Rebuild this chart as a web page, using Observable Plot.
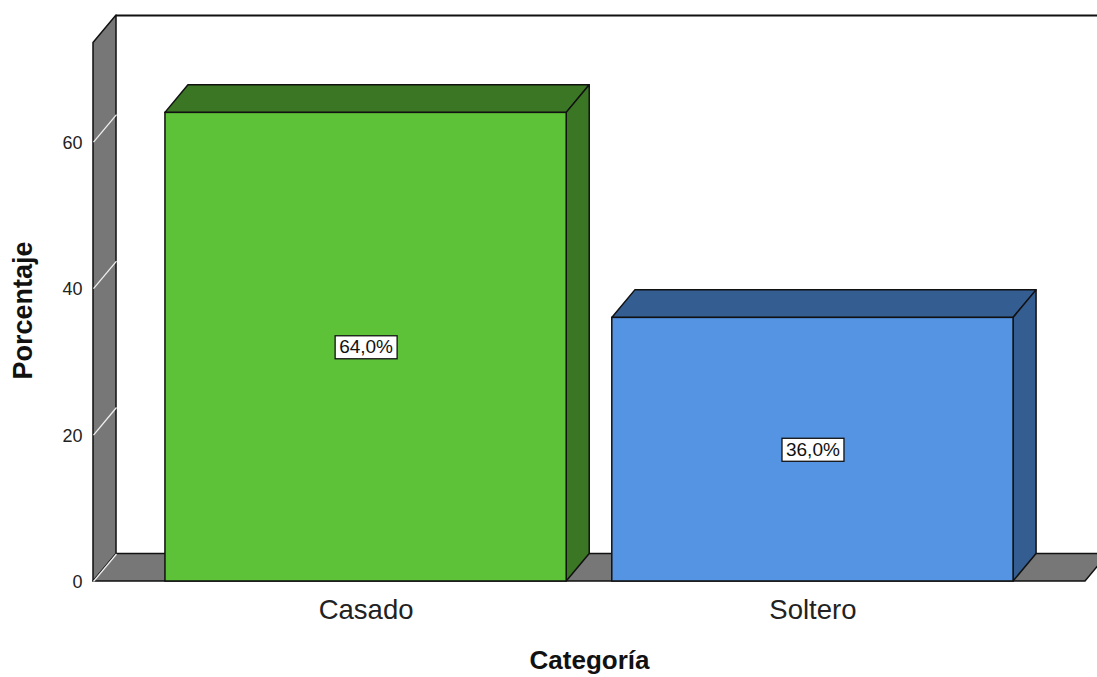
<!DOCTYPE html>
<html>
<head>
<meta charset="utf-8">
<script src="https://cdn.jsdelivr.net/npm/d3@7"></script>
<script src="https://cdn.jsdelivr.net/npm/@observablehq/plot@0.6"></script>
<style>
  html, body { margin: 0; padding: 0; background: #fff; }
  svg { display: block; font-family: "Liberation Sans", Arial, sans-serif; }
</style>
</head>
<body>
<div id="chart"></div>
<script>
// ---- data ----
const categories = ["Casado", "Soltero"];
const percentages = [64.0, 36.0];
const valueLabels = ["64,0%", "36,0%"];
const yTicks = [0, 20, 40, 60];
const frontColors = ["#5dc238", "#5594e3"];
const darkColors = ["#3a7623", "#345d92"];

// ---- layout constants (data units) ----
const xMin = -0.61, xMax = 1.61;    // front plane extent
const yMax = 77.3;                  // top of back wall
const halfW = 0.449;                // half bar width
const DX = 0.0515, DY = 3.76;       // 3D depth offset

const bars = categories.map((c, i) => ({cat: c, i, v: percentages[i], label: valueLabels[i], front: frontColors[i], dark: darkColors[i]}));

const topFaces = bars.flatMap(b => [
  {cat: b.cat, dark: b.dark, y: b.v, x1: b.i - halfW, x2: b.i + halfW},
  {cat: b.cat, dark: b.dark, y: b.v + DY, x1: b.i - halfW + DX, x2: b.i + halfW + DX}
]);
const sideFaces = bars.flatMap(b => [
  {cat: b.cat, dark: b.dark, x: b.i + halfW, y1: 0, y2: b.v},
  {cat: b.cat, dark: b.dark, x: b.i + halfW + DX, y1: DY, y2: b.v + DY}
]);
const floor = [{y: 0, x1: xMin, x2: xMax}, {y: DY, x1: xMin + DX, x2: xMax + DX}];
const leftWall = [{x: xMin, y1: 0, y2: yMax - DY}, {x: xMin + DX, y1: DY, y2: yMax}];

const chart = Plot.plot({
  width: 1097,
  height: 677,
  marginLeft: 93,
  marginRight: 12,
  marginTop: 15,
  marginBottom: 96,
  x: {type: "linear", domain: [xMin, xMax], axis: null},
  y: {domain: [0, yMax], axis: null},
  marks: [
    // floor
    Plot.areaX(floor, {y: "y", x1: "x1", x2: "x2", fill: "#777777", stroke: "#111", strokeWidth: 1.5}),
    // left wall
    Plot.areaY(leftWall, {x: "x", y1: "y1", y2: "y2", fill: "#777777", stroke: "#111", strokeWidth: 1.5}),
    // back wall top edge
    Plot.ruleY([yMax], {x1: xMin + DX, x2: xMax + DX + 0.1, stroke: "#111", strokeWidth: 2}),
    // tick lines on left wall
    Plot.link(yTicks, {x1: xMin, y1: d => d, x2: xMin + DX, y2: d => d + DY, stroke: "#f0f0f0", strokeWidth: 1.3}),
    // tick labels
    Plot.text(yTicks, {x: xMin, y: d => d, text: d => String(d), textAnchor: "end", dx: -11, dy: 1, fontSize: 18, fill: "#222"}),
    // bar top faces
    Plot.areaX(topFaces, {y: "y", x1: "x1", x2: "x2", z: "cat", fill: "dark", stroke: "#111", strokeWidth: 1.5}),
    // bar side faces
    Plot.areaY(sideFaces, {x: "x", y1: "y1", y2: "y2", z: "cat", fill: "dark", stroke: "#111", strokeWidth: 1.5}),
    // bar fronts
    Plot.rectY(bars, {x1: d => d.i - halfW, x2: d => d.i + halfW, y1: 0, y2: "v", fill: "front", stroke: "#111", strokeWidth: 1.5}),
    // value labels
    Plot.text(bars, {x: "i", y: d => d.v / 2, text: "label", fontSize: 19, fill: "#111"}),
    // category labels
    Plot.text(bars, {x: "i", y: 0, text: "cat", dy: 29, fontSize: 27.5, fill: "#222"}),
    // axis titles
    Plot.text(["Categoría"], {frameAnchor: "bottom", textAnchor: "middle", lineAnchor: "middle", text: d => d, dy: 79, fontSize: 26, fontWeight: "bold", fill: "#111"}),
    Plot.text(["Porcentaje"], {frameAnchor: "left", textAnchor: "middle", lineAnchor: "middle", text: d => d, rotate: -90, dx: -70, dy: 12, fontSize: 27, fontWeight: "bold", fill: "#111"})
  ]
});

document.getElementById("chart").appendChild(chart);

// white boxes behind value labels
d3.select(chart).selectAll("text").each(function() {
  const t = this.textContent;
  if (!valueLabels.includes(t)) return;
  const bb = this.getBBox();
  d3.select(this.parentNode).insert("rect", () => this)
    .attr("transform", this.getAttribute("transform"))
    .attr("x", bb.x - 4).attr("y", bb.y - 0.5)
    .attr("width", bb.width + 8).attr("height", bb.height + 2)
    .attr("fill", "#fff").attr("stroke", "#111").attr("stroke-width", 1.3);
});
</script>
</body>
</html>
